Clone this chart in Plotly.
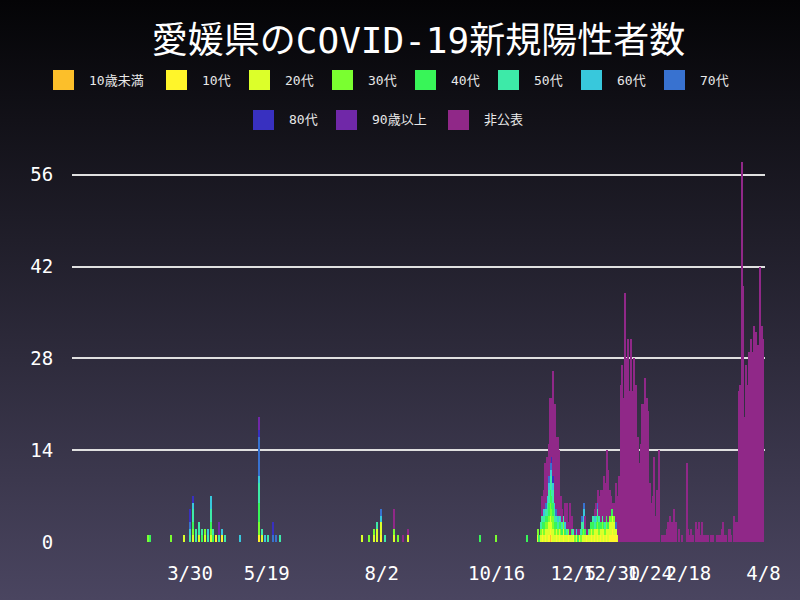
import base64
import pandas as pd
import plotly.graph_objects as go

# data
categories = ['10歳未満', '10代', '20代', '30代', '40代', '50代', '60代', '70代', '80代', '90歳以上', '非公表']
colors = ['#fcbf2a', '#fff52a', '#dcff2a', '#7aff30', '#38f558', '#3deaa8', '#38c8dc', '#3872d0', '#3830c0', '#7028a8', '#902888']

# scattered cases, spring / summer / autumn 2020
sparse = {
    '10歳未満': [('2020-11-20', 1)],
    '10代': [('2020-04-16', 1), ('2020-04-20', 1), ('2020-05-14', 1), ('2020-08-02', 1)],
    '20代': [('2020-03-26', 1), ('2020-04-01', 1), ('2020-04-05', 1), ('2020-04-09', 1), ('2020-04-13', 1),
             ('2020-05-16', 1), ('2020-07-20', 1), ('2020-07-28', 1), ('2020-07-30', 2), ('2020-08-02', 2),
             ('2020-08-10', 1), ('2020-08-19', 1)],
    '30代': [('2020-03-03', 1), ('2020-03-18', 1), ('2020-04-01', 1), ('2020-04-09', 1), ('2020-04-13', 1),
             ('2020-05-14', 2), ('2020-07-25', 1), ('2020-07-28', 1), ('2020-08-10', 1), ('2020-08-13', 1),
             ('2020-10-16', 1)],
    '40代': [('2020-03-04', 1), ('2020-04-01', 1), ('2020-04-07', 1), ('2020-04-13', 1), ('2020-04-14', 1),
             ('2020-05-14', 3), ('2020-10-05', 1), ('2020-11-05', 1)],
    '50代': [('2020-03-30', 1), ('2020-04-01', 2), ('2020-04-03', 2), ('2020-04-05', 2), ('2020-04-07', 1),
             ('2020-04-11', 1), ('2020-04-13', 2), ('2020-04-14', 1), ('2020-04-18', 1), ('2020-04-22', 1),
             ('2020-05-14', 3), ('2020-05-16', 1), ('2020-05-20', 1), ('2020-05-28', 1), ('2020-07-30', 1),
             ('2020-08-04', 1)],
    '60代': [('2020-03-30', 1), ('2020-04-01', 1), ('2020-04-11', 1), ('2020-04-13', 2), ('2020-04-20', 1),
             ('2020-05-02', 1), ('2020-05-14', 1), ('2020-05-18', 1), ('2020-08-02', 1)],
    '70代': [('2020-03-30', 1), ('2020-05-14', 6), ('2020-05-23', 1), ('2020-05-25', 1), ('2020-08-02', 1)],
    '80代': [('2020-03-30', 2), ('2020-04-01', 1), ('2020-05-14', 1), ('2020-05-23', 2),
             ('2020-11-21', 1), ('2020-11-22', 1)],
    '90歳以上': [('2020-04-18', 2), ('2020-05-14', 2)],
    '非公表': [('2020-08-10', 3), ('2020-08-16', 1), ('2020-08-19', 1)],
}

# daily counts from 2020-11-12 onwards
seg_start = '2020-11-12'
seg_10 = [0,0,0,1,0,1,0,1,1,1, 0,0,1,0,1,0,0,1,0,0, 1,0,0,1,0,0,0,0,0,0, 0,0,1,0,0,1,0,1,0,1, 0,1,0,1,0,1,0,1,1,2, 1,1,0]
seg_20 = [1,0,1,1,1,1,2,2,2,2, 2,1,1,1,1,1,1,1,1,1, 0,1,1,0,0,1,0,1,0,1, 1,1,0,1,1,1,1,1,2,1, 1,1,2,1,1,1,2,2,2,2, 2,1,1]
seg_30 = [1,0,1,0,1,1,1,1,2,2, 2,1,0,1,0,1,0,1,0,0, 1,0,0,0,1,0,0,0,1,0, 1,0,0,0,1,0,1,0,0,1, 1,0,1,0,1,1,0,1,1,0, 1,0,0]
seg_40 = [0,1,0,1,1,1,1,2,2,2, 2,1,1,0,1,1,1,0,1,0, 0,0,1,0,0,0,1,0,0,1, 0,1,0,0,0,1,1,0,1,1, 1,1,0,1,0,1,1,0,1,1, 0,0,0]
seg_50 = [0,0,1,1,1,1,2,2,2,3, 2,2,1,1,1,0,1,1,0,1, 0,0,0,1,0,0,0,0,1,1, 1,0,0,1,0,0,1,1,1,1, 1,0,1,0,1,0,0,0,0,0, 0,0,0]
seg_60 = [0,0,0,0,1,0,1,1,1,1, 1,1,0,1,0,1,0,0,1,0, 0,0,0,0,0,1,0,0,0,0, 2,0,0,0,0,0,0,1,0,0, 0,0,0,0,0,0,0,0,0,0, 0,0,0]
seg_70 = [0,0,0,0,0,1,0,1,1,1, 0,0,1,0,0,0,0,0,0,0, 0,0,0,0,0,0,0,0,0,1, 1,0,0,0,0,0,0,0,0,1, 0,0,0,0,0,0,0,0,0,0, 0,1,0]
seg_hidden = [0,0,0,3,3,6,6,5,10,9, 16,15,11,12,10,3,2,0,3,4, 1,5,2,0,1,0,1,1,0,0,
              0,2,1,0,0,0,0,1,2,2, 3,5,4,7,6,10,8,4,2,1, 2,6,6,
              10,24,27,22,38,28,31,23,31,23,28,24,16,12,15,21,21,25,22,20,9,6,7,13,4,8,14,
              0,1,1,1,2,3,4,3,3,5,3,0,2, 0,1,0,0, 12, 2,
              1,2,1,0,3,2,3,1,3,1,1,1,1,0,1,1,0,0,1,1,1,2,3,1,1,0,2,1,0,4,3,3,23,24,
              58, 39,19,27,24,29,31,29,33,32,30,30,42,33,31]
segments = {'10代': seg_10, '20代': seg_20, '30代': seg_30, '40代': seg_40, '50代': seg_50,
            '60代': seg_60, '70代': seg_70, '非公表': seg_hidden}

x_ticks = ['2020-03-30', '2020-05-19', '2020-08-02', '2020-10-16', '2020-12-05',
           '2020-12-30', '2021-01-24', '2021-02-18', '2021-04-08']
x_ticktext = ['3/30', '5/19', '8/2', '10/16', '12/5', '12/30', '1/24', '2/18', '4/8']

days = pd.date_range('2020-01-14', '2021-04-08')
table = pd.DataFrame(0, index=days, columns=categories)
for cat, pairs in sparse.items():
    for d, n in pairs:
        table.loc[pd.Timestamp(d), cat] += n
for cat, vals in segments.items():
    idx = pd.date_range(seg_start, periods=len(vals))
    table.loc[idx, cat] += vals

fig = go.Figure()
for cat, col in zip(categories, colors):
    fig.add_trace(go.Bar(x=table.index, y=table[cat], name=cat, marker_color=col,
                         marker_line_width=0, showlegend=False))

# background gradient
svg = ('<svg xmlns="http://www.w3.org/2000/svg" width="800" height="600">'
       '<defs><linearGradient id="g" x1="0" y1="0" x2="0" y2="1">'
       '<stop offset="0" stop-color="#040406"/><stop offset="1" stop-color="#4a4560"/>'
       '</linearGradient></defs><rect width="800" height="600" fill="url(#g)"/></svg>')
bg = 'data:image/svg+xml;base64,' + base64.b64encode(svg.encode()).decode()

L, R, T, B = 72, 35, 155, 58
pw, ph = 800 - L - R, 600 - T - B
px = lambda v: (v - L) / pw
py = lambda v: (600 - B - v) / ph

font = 'DejaVu Sans Mono, Noto Sans CJK JP'
shapes, annots = [], []
legend_pos = [(53, 80), (166, 80), (249, 80), (332, 80), (415, 80), (498, 80), (581, 80), (664, 80),
              (253, 120), (336, 120), (448, 120)]
for (lx, ly), cat, col in zip(legend_pos, categories, colors):
    shapes.append(dict(type='rect', xref='paper', yref='paper', x0=px(lx), x1=px(lx + 21),
                       y0=py(ly + 10), y1=py(ly - 10), fillcolor=col, line_width=0))
    annots.append(dict(text=cat, xref='paper', yref='paper', x=px(lx + 34), y=py(ly),
                       xanchor='left', yanchor='middle', showarrow=False,
                       font=dict(size=13, color='#e8e8e8', family=font)))

fig.update_layout(
    width=800, height=600,
    margin=dict(l=L, r=R, t=T, b=B),
    barmode='stack', bargap=0,
    paper_bgcolor='#222', plot_bgcolor='rgba(0,0,0,0)',
    images=[dict(source=bg, xref='paper', yref='paper', x=px(0), y=py(0), sizex=800 / pw,
                 sizey=600 / ph, xanchor='left', yanchor='top', sizing='stretch', layer='below')],
    title=dict(text='愛媛県のCOVID-19新規陽性者数', x=0.5, xref='paper', y=0.932, yanchor='middle',
               font=dict(size=36, color='white', family=font)),
    shapes=shapes, annotations=annots,
    font=dict(family=font, color='white'),
)
fig.update_xaxes(range=['2020-01-13', '2021-04-09'], tickvals=x_ticks, ticktext=x_ticktext,
                 tickangle=0, showgrid=False, tickfont=dict(size=19, color='white'),
                 ticks='outside', ticklen=14, tickcolor='rgba(0,0,0,0)', zeroline=False)
fig.update_yaxes(range=[0, 59], tickvals=[0, 14, 28, 42, 56], showgrid=True, gridcolor='#e0e0e0',
                 gridwidth=1.5, tickfont=dict(size=19, color='white'),
                 ticks='outside', ticklen=14, tickcolor='rgba(0,0,0,0)', zeroline=False)

fig.write_html('out.html', config={'displayModeBar': False})

# drop the default page margin so the 800x600 figure fills the window
with open('out.html', encoding='utf-8') as f:
    page = f.read()
page = page.replace('<head>', '<head><style>body{margin:0;background:#000;}</style>', 1)
with open('out.html', 'w', encoding='utf-8') as f:
    f.write(page)
